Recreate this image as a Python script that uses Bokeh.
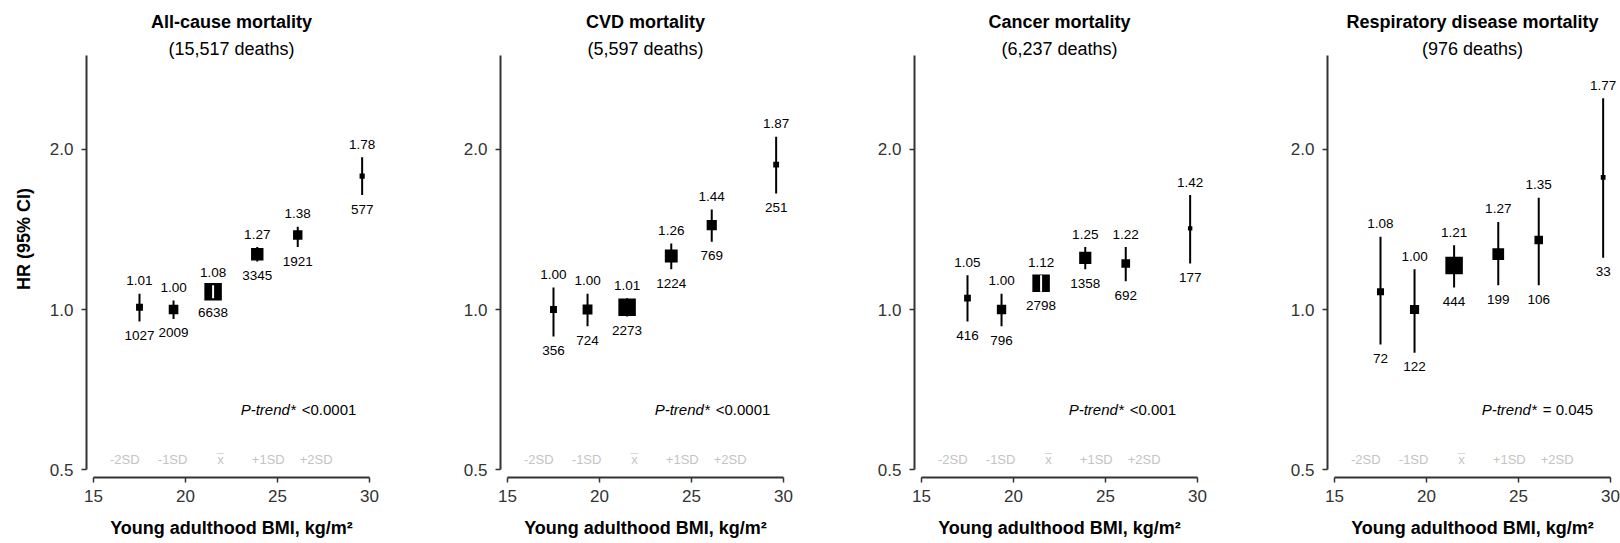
import math
from bokeh.plotting import figure
from bokeh.layouts import row
from bokeh.models import Range1d, FixedTicker, PrintfTickFormatter, ColumnDataSource
from bokeh.core.properties import value
from bokeh.embed import file_html
from bokeh.resources import INLINE

# ---------------- data ----------------
bmi = [17.5, 19.35, 21.5, 23.9, 26.1, 29.6]

titles = ["All-cause mortality", "CVD mortality", "Cancer mortality",
          "Respiratory disease mortality"]
subtitles = ["(15,517 deaths)", "(5,597 deaths)", "(6,237 deaths)", "(976 deaths)"]
p_trend = ["<0.0001", "<0.0001", "<0.001", "= 0.045"]

hr_all = [1.01, 1.00, 1.08, 1.27, 1.38, 1.78]
lo_all = [0.95, 0.96, 1.05, 1.23, 1.31, 1.64]
hi_all = [1.07, 1.04, 1.11, 1.31, 1.43, 1.93]
n_all = [1027, 2009, 6638, 3345, 1921, 577]

hr_cvd = [1.00, 1.00, 1.01, 1.26, 1.44, 1.87]
lo_cvd = [0.89, 0.93, 0.97, 1.19, 1.34, 1.65]
hi_cvd = [1.10, 1.07, 1.05, 1.33, 1.54, 2.11]
n_cvd = [356, 724, 2273, 1224, 769, 251]

hr_can = [1.05, 1.00, 1.12, 1.25, 1.22, 1.42]
lo_can = [0.95, 0.93, 1.08, 1.19, 1.13, 1.22]
hi_can = [1.16, 1.07, 1.16, 1.31, 1.31, 1.64]
n_can = [416, 796, 2798, 1358, 692, 177]

hr_resp = [1.08, 1.00, 1.21, 1.27, 1.35, 1.77]
lo_resp = [0.86, 0.83, 1.10, 1.11, 1.11, 1.25]
hi_resp = [1.37, 1.19, 1.32, 1.46, 1.62, 2.49]
n_resp = [72, 122, 444, 199, 106, 33]

sd_bmi = [16.7, 19.3, 21.9, 24.5, 27.1]
sd_labels = ["-2SD", "-1SD", "x", "+1SD", "+2SD"]
mean_bmi = 21.9
mean_bar = "\u00af"

x_ticks = [15, 20, 25, 30]
y_ticks = [0.5, 1.0, 2.0]

panels = [
    (hr_all, lo_all, hi_all, n_all),
    (hr_cvd, lo_cvd, hi_cvd, n_cvd),
    (hr_can, lo_can, hi_can, n_can),
    (hr_resp, lo_resp, hi_resp, n_resp),
]

# ---------------- layout / style ----------------
FONT = value("Liberation Sans")
FRAME_W, FRAME_H = 290, 477
X_START, X_END = 14.62, 30.38
Y_START, Y_END = 0.484, 3.80
Y_AXIS_TOP = 3.0
PX_PER_LOG2 = FRAME_H / math.log2(Y_END / Y_START)
MAX_SQ = 17.5
right_borders = [38, 38, 37, 3]
P_X = 23.0
P_Y = 0.65
SD_Y = 0.523
SD_COLOR = "#c4c4c4"

figs = []
for i, (hr, lo, hi, n) in enumerate(panels):
    p = figure(frame_width=FRAME_W, frame_height=FRAME_H,
               x_range=Range1d(X_START, X_END), y_range=Range1d(Y_START, Y_END),
               y_axis_type="log", output_backend="svg", toolbar_location=None,
               min_border_left=86, min_border_right=right_borders[i],
               min_border_top=0, min_border_bottom=66)
    p.outline_line_color = None
    p.grid.visible = False
    p.background_fill_color = "white"
    p.border_fill_color = "white"

    # axes
    for ax in (p.xaxis[0], p.yaxis[0]):
        ax.axis_line_color = "#333333"
        ax.axis_line_width = 2
        ax.major_tick_line_color = "#333333"
        ax.major_tick_line_width = 1.5
        ax.major_tick_out = 5
        ax.major_tick_in = 0
        ax.minor_tick_line_color = None
        ax.major_label_text_font = "Liberation Sans"
        ax.major_label_text_font_size = "17px"
        ax.major_label_text_color = "#333333"
        ax.axis_label_text_font = "Liberation Sans"
        ax.axis_label_text_font_size = "18px"
        ax.axis_label_text_font_style = "bold"
        ax.axis_label_text_color = "black"
    p.xaxis[0].ticker = FixedTicker(ticks=x_ticks)
    p.xaxis[0].bounds = (x_ticks[0], x_ticks[-1])
    p.xaxis[0].major_label_standoff = 7
    p.xaxis[0].axis_label = "Young adulthood BMI, kg/m\u00b2"
    p.xaxis[0].axis_label_standoff = 13
    p.yaxis[0].ticker = FixedTicker(ticks=y_ticks)
    p.yaxis[0].formatter = PrintfTickFormatter(format="%.1f")
    p.yaxis[0].bounds = (y_ticks[0], Y_AXIS_TOP)
    p.yaxis[0].major_label_standoff = 8
    if i == 0:
        p.yaxis[0].axis_label = "HR (95% CI)"
        p.yaxis[0].axis_label_standoff = 13

    # sizes of squares ~ sqrt(count)
    nmax = max(n)
    sizes = [MAX_SQ * math.sqrt(v / nmax) for v in n]
    inside = []
    for h, l, u, s in zip(hr, lo, hi, sizes):
        up_px = math.log2(u / h) * PX_PER_LOG2
        dn_px = math.log2(h / l) * PX_PER_LOG2
        inside.append(up_px <= s / 2 and dn_px <= s / 2)

    src = ColumnDataSource(dict(
        x=bmi, hr=hr, lo=lo, hi=hi, size=sizes,
        hr_txt=["%.2f" % v for v in hr], n_txt=[str(v) for v in n]))
    p.segment(x0="x", y0="lo", x1="x", y1="hi", source=src,
              line_color="black", line_width=2)
    p.scatter(x="x", y="hr", size="size", marker="square", source=src,
              fill_color="black", line_color="black", line_width=0)
    wsrc = ColumnDataSource(dict(
        x=[b for b, k in zip(bmi, inside) if k],
        lo=[v for v, k in zip(lo, inside) if k],
        hi=[v for v, k in zip(hi, inside) if k]))
    p.segment(x0="x", y0="lo", x1="x", y1="hi", source=wsrc,
              line_color="white", line_width=2)

    p.text(x="x", y="hi", text="hr_txt", source=src, text_font=FONT,
           text_font_size="13.5px", text_color="black", text_align="center",
           text_baseline="middle", y_offset=-13)
    p.text(x="x", y="lo", text="n_txt", source=src, text_font=FONT,
           text_font_size="13.5px", text_color="black", text_align="center",
           text_baseline="middle", y_offset=14)

    # SD labels
    p.text(x=sd_bmi, y=[SD_Y] * len(sd_bmi), text=sd_labels, text_font=FONT,
           text_font_size="13px", text_color=SD_COLOR, text_align="center",
           text_baseline="middle")
    p.text(x=[mean_bmi], y=[SD_Y], text=[mean_bar], text_font=FONT,
           text_font_size="13px", text_color=SD_COLOR, text_align="center",
           text_baseline="middle", y_offset=-1)

    # P-trend
    p.text(x=[P_X], y=[P_Y], text=["P-trend*"], text_font=FONT,
           text_font_size="15px", text_font_style="italic", text_color="black",
           text_align="left", text_baseline="middle")
    p.text(x=[P_X], y=[P_Y], text=[p_trend[i]], text_font=FONT,
           text_font_size="15px", text_color="black",
           text_align="left", text_baseline="middle", x_offset=61)

    # titles
    xc = (x_ticks[0] + x_ticks[-1]) / 2
    p.text(x=[xc], y=[Y_AXIS_TOP], text=[titles[i]], text_font=FONT,
           text_font_size="18px", text_font_style="bold", text_color="black",
           text_align="center", text_baseline="middle", y_offset=-33)
    p.text(x=[xc], y=[Y_AXIS_TOP], text=[subtitles[i]], text_font=FONT,
           text_font_size="18px", text_color="black",
           text_align="center", text_baseline="middle", y_offset=-6)

    figs.append(p)

layout = row(*figs, spacing=0)
open("out.html", "w").write(file_html(layout, INLINE))
